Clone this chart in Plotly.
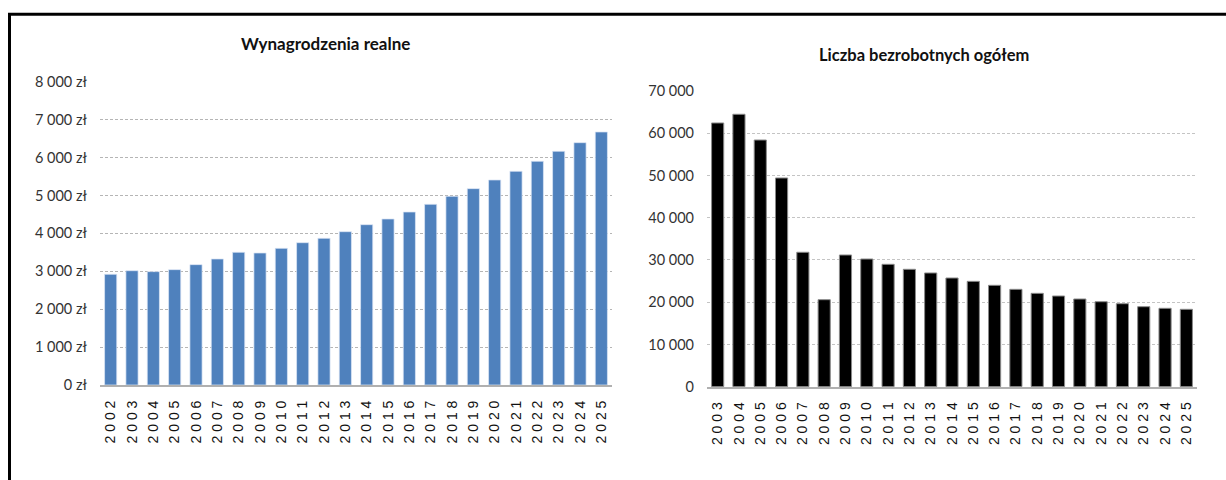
import plotly.graph_objects as go

# ---- data ----
years_wages = [str(y) for y in range(2002, 2026)]
wages = [2920, 3015, 2990, 3043, 3175, 3324, 3500, 3482, 3605, 3754, 3869, 4044,
         4229, 4379, 4563, 4766, 4977, 5179, 5408, 5637, 5901, 6165, 6392, 6674]

years_unemp = [str(y) for y in range(2003, 2026)]
unemployed = [62430, 64490, 58400, 49410, 31820, 20600, 31180, 30230, 28970, 27790,
              26920, 25730, 24940, 24000, 23050, 22100, 21470, 20760, 20120, 19650,
              18940, 18560, 18320]

wage_ticks = list(range(0, 8001, 1000))
unemp_ticks = list(range(0, 70001, 10000))

title_left = "Wynagrodzenia realne"
title_right = "Liczba bezrobotnych ogółem"

W, H = 1226, 480


def thousands(v):
    return f"{v:,}".replace(",", " ")


def spaced(s):
    return " ".join(s)


fig = go.Figure()
fig.add_trace(go.Bar(x=years_wages, y=wages, xaxis="x", yaxis="y",
                     marker=dict(color="#4F81BD", line=dict(color="rgba(220,230,245,0.9)", width=0.8)),
                     showlegend=False, hoverinfo="skip"))
fig.add_trace(go.Bar(x=years_unemp, y=unemployed, xaxis="x2", yaxis="y2",
                     marker=dict(color="#000000", line=dict(color="#8a8a8a", width=1)),
                     showlegend=False, hoverinfo="skip"))

tick_font = dict(family="Lato, 'Open Sans', sans-serif", size=14.5, color="#333333")
year_font = dict(family="'Liberation Sans', Arial, sans-serif", size=14, color="#111111")
title_font = dict(family="Lato, 'Open Sans', sans-serif", size=17, color="#111111")
title_font2 = dict(family="Lato, 'Open Sans', sans-serif", size=16.5, color="#111111")

fig.update_layout(
    template="none",
    width=W, height=H,
    margin=dict(l=0, r=0, t=0, b=0, autoexpand=False),
    paper_bgcolor="white", plot_bgcolor="white",
    bargap=0.43,
    xaxis=dict(domain=[100 / W, 612 / W], anchor="y", type="category", automargin=False,
               tickvals=years_wages, ticktext=[spaced(y) for y in years_wages],
               tickangle=-90, tickfont=year_font, showgrid=False,
               showline=True, linecolor="#b0b0b0", linewidth=2, ticks="", ticklabelstandoff=8),
    yaxis=dict(domain=[1 - 385 / H, 1 - 81.7 / H], anchor="x", range=[0, 8000], automargin=False,
               tickvals=wage_ticks, ticktext=[thousands(v) + " zł" for v in wage_ticks],
               tickfont=tick_font, showgrid=True, gridcolor="#b5b5b5", griddash="3px,2px",
               gridwidth=1, zeroline=False, showline=False, ticks="", ticklabelstandoff=12),
    xaxis2=dict(domain=[707 / W, 1197 / W], anchor="y2", type="category", automargin=False,
                tickvals=years_unemp, ticktext=[spaced(y) for y in years_unemp],
                tickangle=-90, tickfont=year_font, showgrid=False,
                showline=True, linecolor="#b0b0b0", linewidth=2, ticks="", ticklabelstandoff=8),
    yaxis2=dict(domain=[1 - 386.7 / H, 1 - 91 / H], anchor="x2", range=[0, 70000], automargin=False,
                tickvals=unemp_ticks, ticktext=[thousands(v) for v in unemp_ticks],
                tickfont=tick_font, showgrid=True, gridcolor="#c4c4c4", griddash="3px,2px",
                gridwidth=1, zeroline=False, showline=False, ticks="", ticklabelstandoff=12),
    annotations=[
        dict(text="<b>" + title_left + "</b>", x=325 / W, y=1 - 43 / H, xref="paper", yref="paper",
             xanchor="center", yanchor="middle", showarrow=False, font=title_font),
        dict(text="<b>" + title_right + "</b>", x=924 / W, y=1 - 55 / H, xref="paper", yref="paper",
             xanchor="center", yanchor="middle", showarrow=False, font=title_font2),
    ],
    shapes=[
        dict(type="line", xref="paper", yref="paper", x0=9.5 / W, x1=9.5 / W, y0=1 - 14 / H, y1=-0.05,
             line=dict(color="black", width=3)),
        dict(type="line", xref="paper", yref="paper", x0=8 / W, x1=1.05, y0=1 - 14.3 / H, y1=1 - 14.3 / H,
             line=dict(color="black", width=3)),
    ],
)
fig.update_xaxes(fixedrange=True)
fig.update_yaxes(fixedrange=True)

fig.write_html("out.html", config={"displayModeBar": False},
               post_script="document.body.style.margin='0';document.body.style.overflow='hidden';")
